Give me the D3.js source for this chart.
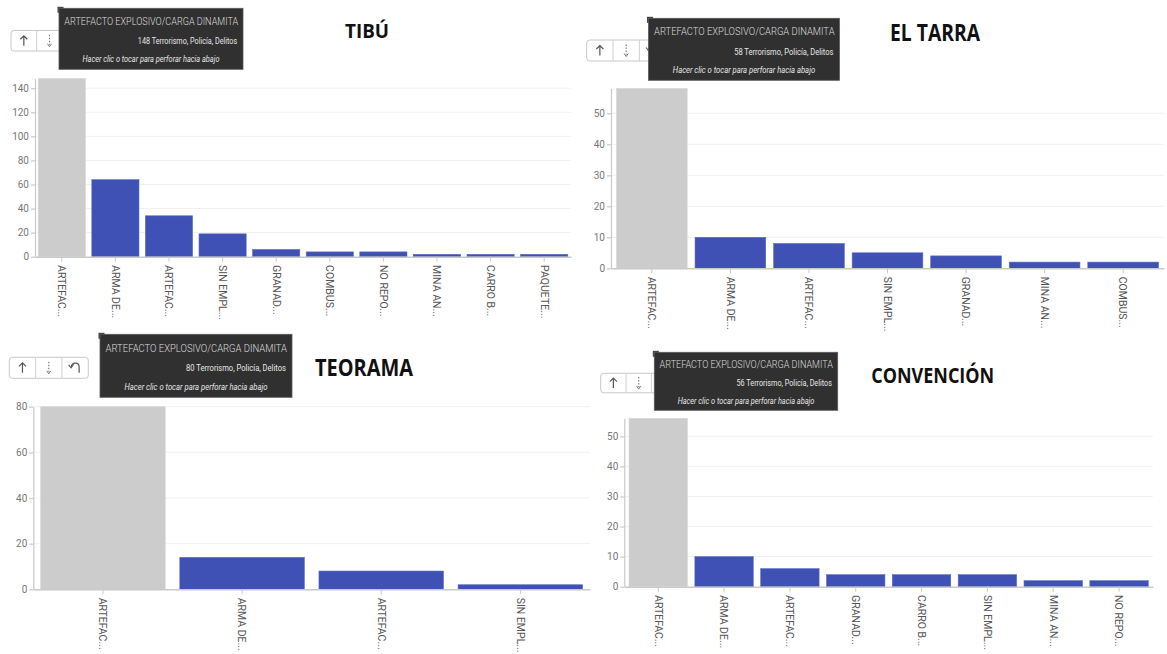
<!DOCTYPE html>
<html><head><meta charset="utf-8">
<script src="https://cdn.jsdelivr.net/npm/d3@7"></script>
<style>body{margin:0;background:#fff;overflow:hidden}</style>
</head><body><svg id="c" width="1167" height="654"></svg>
<script>
// ---- data ----
const tibuCategories = ["ARTEFAC...","ARMA DE...","ARTEFAC...","SIN EMPL...","GRANAD...","COMBUS...","NO REPO...","MINA AN...","CARRO B...","PAQUETE..."];
const tibuValues = [148,64,34,19,6,4,4,2,2,2];
const tibuTicks = [0,20,40,60,80,100,120,140];

const tarraCategories = ["ARTEFAC...","ARMA DE...","ARTEFAC...","SIN EMPL...","GRANAD...","MINA AN...","COMBUS..."];
const tarraValues = [58,10,8,5,4,2,2];
const tarraTicks = [0,10,20,30,40,50];

const teoramaCategories = ["ARTEFAC...","ARMA DE...","ARTEFAC...","SIN EMPL..."];
const teoramaValues = [80,14,8,2];
const teoramaTicks = [0,20,40,60,80];

const convencionCategories = ["ARTEFAC...","ARMA DE...","ARTEFAC...","GRANAD...","CARRO B...","SIN EMPL...","MINA AN...","NO REPO..."];
const convencionValues = [56,10,6,4,4,4,2,2];
const convencionTicks = [0,10,20,30,40,50];

const titles = ["TIBÚ","EL TARRA","TEORAMA","CONVENCIÓN"];
const tooltipHeader = "ARTEFACTO EXPLOSIVO/CARGA DINAMITA";
const tooltipSuffix = " Terrorismo, Policía, Delitos";
const tooltipHint = "Hacer clic o tocar para perforar hacia abajo";

// ---- layout ----
const panels = [
  {title:titles[0], cats:tibuCategories, vals:tibuValues, ticks:tibuTicks,
   xr:[35,571], pi:0.12, po:0.06, base:256.7, top:78.6,
   t:{cx:367, y:38, size:20, w:44},
   tb:{x:11, y:30.5, w:77, h:20.5, n:3},
   tt:{x:59, y:8.3, w:184, h:61}},
  {title:titles[1], cats:tarraCategories, vals:tarraValues, ticks:tarraTicks,
   xr:[611,1164], pi:0.1, po:0.07, base:268.3, top:88.5,
   t:{cx:935, y:40.7, size:23, w:90},
   tb:{x:586.7, y:40, w:79, h:21, n:3},
   tt:{x:648.5, y:18.3, w:191, h:62}},
  {title:titles[2], cats:teoramaCategories, vals:teoramaValues, ticks:teoramaTicks,
   xr:[33.3,590], pi:0.105, po:0.053, base:589.3, top:406.7,
   t:{cx:364, y:376, size:23, w:98},
   tb:{x:9.3, y:357.3, w:79, h:21, n:3},
   tt:{x:100, y:334.3, w:192, h:63}},
  {title:titles[3], cats:convencionCategories, vals:convencionValues, ticks:convencionTicks,
   xr:[624.3,1153], pi:0.113, po:0.072, base:586.7, top:418.3,
   t:{cx:932.7, y:382.7, size:22, w:123},
   tb:{x:600.7, y:373.3, w:76, h:19.5, n:3},
   tt:{x:654.3, y:352.3, w:183.4, h:58}}
];

const svg = d3.select("#c");
const AX = "#c9c9c9";

panels.forEach(p => {
  const g = svg.append("g");
  const n = p.cats.length;
  const x = d3.scaleBand().domain(d3.range(n)).range(p.xr).paddingInner(p.pi).paddingOuter(p.po);
  const ymax = d3.max(p.vals);
  const y = d3.scaleLinear().domain([0, ymax]).range([p.base, p.top]);

  // gridlines
  g.append("g").selectAll("line").data(p.ticks.filter(t=>t>0)).join("line")
    .attr("x1", p.xr[0]).attr("x2", p.xr[1])
    .attr("y1", d=>y(d)).attr("y2", d=>y(d))
    .attr("stroke", "#f1f1f1").attr("stroke-width", 1);

  // bars
  g.append("g").selectAll("rect").data(p.vals).join("rect")
    .attr("x", (d,i)=>x(i)).attr("width", x.bandwidth())
    .attr("y", d=>y(d)).attr("height", d=>p.base - y(d))
    .attr("fill", (d,i)=> i===0 ? "#cccccc" : "#3f51b5")
    .attr("stroke", (d,i)=> i===0 ? "#d6d6d6" : "#5c6bc0").attr("stroke-width", 0.6);

  // y axis
  const ya = g.append("g").attr("transform", `translate(${p.xr[0]},0)`)
    .call(d3.axisLeft(y).tickValues(p.ticks).tickSize(4).tickSizeOuter(0).tickPadding(2));
  ya.selectAll("path,line").attr("stroke", AX).attr("stroke-width", 1.2);
  ya.selectAll("text").attr("fill", "#777").style("font-family","Roboto").style("font-size","10px");

  // x axis
  const xa = g.append("g").attr("transform", `translate(0,${p.base})`)
    .call(d3.axisBottom(x).tickFormat(i=>p.cats[i]).tickSize(5).tickSizeOuter(0));
  xa.select("path").attr("stroke", AX).attr("stroke-width", 1.6);
  xa.selectAll("line").attr("stroke", AX).attr("stroke-width", 1);
  xa.selectAll("text")
    .attr("transform", "rotate(90)")
    .attr("x", 8.4).attr("y", 0).attr("dy", "0.35em")
    .attr("text-anchor", "start")
    .attr("fill", "#555").style("font-family","Roboto").style("font-size","10.5px");

  // title
  g.append("text").attr("x", p.t.cx).attr("y", p.t.y).attr("text-anchor","middle")
    .style("font-family","'Open Sans'").style("font-weight","700").style("font-size", p.t.size+"px")
    .attr("textLength", p.t.w).attr("lengthAdjust","spacingAndGlyphs")
    .attr("fill","#111").text(p.title);

  // toolbar
  const tb = p.tb, bw = tb.w / tb.n;
  const tg = g.append("g");
  tg.append("rect").attr("x", tb.x).attr("y", tb.y).attr("width", tb.w).attr("height", tb.h)
    .attr("rx", 3).attr("fill", "#fff").attr("stroke", "#c8c8c8");
  for (let k=1;k<tb.n;k++) tg.append("line").attr("x1", tb.x+k*bw).attr("x2", tb.x+k*bw)
    .attr("y1", tb.y).attr("y2", tb.y+tb.h).attr("stroke","#d0d0d0");
  const cy = tb.y + tb.h/2;
  let cx = tb.x + bw/2;
  tg.append("path").attr("d", `M${cx},${cy+5}V${cy-5}M${cx-3.5},${cy-1.5}L${cx},${cy-5}L${cx+3.5},${cy-1.5}`)
    .attr("fill","none").attr("stroke","#555").attr("stroke-width",1.2);
  cx = tb.x + bw*1.5;
  tg.append("path").attr("d", `M${cx},${cy-6}V${cy+4}`)
    .attr("stroke","#777").attr("stroke-width",1.1).attr("stroke-dasharray","1.5,1.5");
  tg.append("path").attr("d", `M${cx-2},${cy+3}L${cx},${cy+6}L${cx+2},${cy+3}`)
    .attr("fill","none").attr("stroke","#777").attr("stroke-width",1);
  cx = tb.x + bw*2.5;
  tg.append("path").attr("d", `M${cx-4},${cy-1}C${cx-3},${cy-6} ${cx+4},${cy-6} ${cx+4},${cy-1}V${cy+5}`)
    .attr("fill","none").attr("stroke","#555").attr("stroke-width",1.2);
  tg.append("path").attr("d", `M${cx-6.5},${cy-3}L${cx-4},${cy}L${cx-1.5},${cy-3.5}`)
    .attr("fill","none").attr("stroke","#555").attr("stroke-width",1.1);

  // tooltip
  const tt = p.tt, s = tt.w/190;
  const og = g.append("g");
  og.append("rect").attr("x", tt.x-1.5).attr("y", tt.y-1.5).attr("width", 6).attr("height", 6).attr("fill","#444");
  og.append("rect").attr("x", tt.x).attr("y", tt.y).attr("width", tt.w).attr("height", tt.h)
    .attr("fill", "#303030").attr("stroke", "#5a5a5a").attr("stroke-width", 0.8);
  og.append("text").attr("x", tt.x + 5.5*s).attr("y", tt.y + tt.h*0.275)
    .attr("fill","#dcdcdc").style("font-family","Roboto").style("font-weight","300").style("font-size", (11.4*s)+"px")
    .attr("textLength", tt.w*0.945).attr("lengthAdjust","spacingAndGlyphs").text(tooltipHeader);
  const l2 = String(ymax) + tooltipSuffix;
  og.append("text").attr("x", tt.x + tt.w - 6*s).attr("y", tt.y + tt.h*0.585)
    .attr("text-anchor","end")
    .attr("fill","#e6e6e6").style("font-family","Roboto").style("font-size", (8.8*s)+"px")
    .attr("textLength", tt.w*(l2.length>31?0.54:0.52)).attr("lengthAdjust","spacingAndGlyphs").text(l2);
  og.append("text").attr("x", tt.x + tt.w/2).attr("y", tt.y + tt.h*0.885)
    .attr("text-anchor","middle")
    .attr("fill","#e6e6e6").style("font-family","Roboto").style("font-style","italic").style("font-size", (8.8*s)+"px")
    .attr("textLength", tt.w*0.745).attr("lengthAdjust","spacingAndGlyphs").text(tooltipHint);
});
</script>
</body></html>
